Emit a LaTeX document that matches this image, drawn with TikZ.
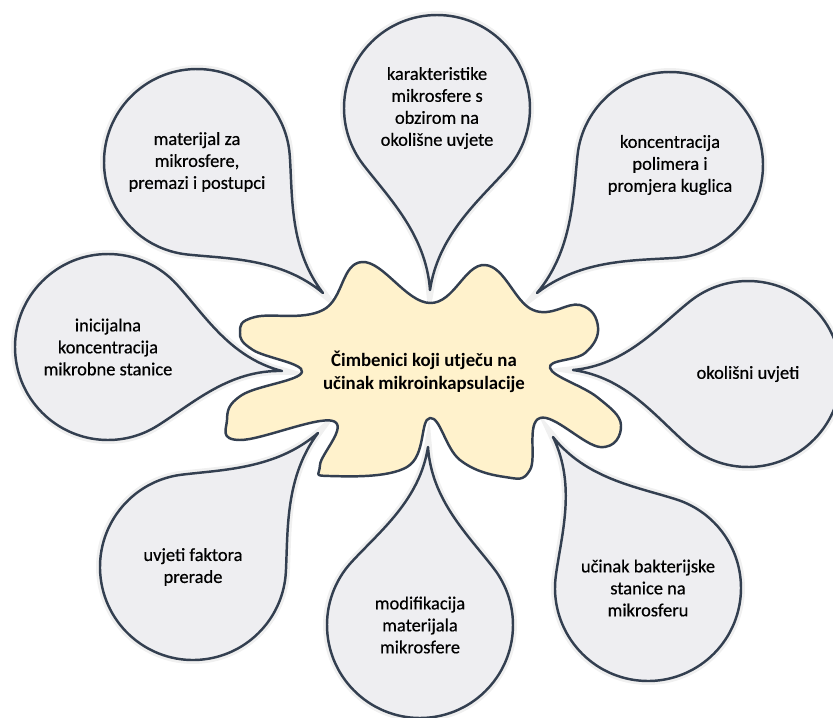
\documentclass[tikz,border=0pt]{standalone}
\usepackage{fontspec}
\setmainfont{Carlito}
\newfontfamily\semibold{Carlito}[FakeBold=0.5]
\definecolor{drop grey}{HTML}{EEEEF1}
\definecolor{blob yellow}{HTML}{FFF2CC}
\definecolor{outline navy}{HTML}{333F50}
\usetikzlibrary{calc,backgrounds}
\tikzstyle{outline} = [draw=outline navy, line width=1.4pt, line join=round]
\tikzstyle{drop} = [outline, fill=drop grey, preaction={draw=black!6, line width=4.5pt}]
\tikzstyle{blob} = [outline, fill=blob yellow]
\tikzstyle{drop text} = [align=center, font=\semibold\fontsize{10.5}{12.5}\selectfont]
\tikzstyle{main text} = [align=center, font=\bfseries\fontsize{10.7}{13}\selectfont]

\begin{document}
\begin{tikzpicture}
        \def\dropR{1.86cm}
        \useasboundingbox (-8.48,-6.90) rectangle (8.18,7.44);
        \node[main text] (faktori) {Čimbenici koji utječu na\\učinak mikroinkapsulacije};
        \draw (faktori) ++(-4.54,4.20) node[drop text] (materijal) {materijal za\\mikrosfere,\\premazi i postupci};
        \draw (faktori) ++(0.26,5.28) node[drop text] (karakteristike) {karakteristike\\mikrosfere s\\obzirom na\\okolišne uvjete};
        \draw (faktori) ++(4.92,4.14) node[drop text] (koncentracija) {koncentracija\\polimera i\\promjera kuglica};
        \draw (faktori) ++(6.48,-0.04) node[drop text] (okolisni) {okolišni uvjeti};
        \draw (faktori) ++(4.48,-4.32) node[drop text] (ucinak) {učinak bakterijske\\stanice na\\mikrosferu};
        \draw (faktori) ++(-0.08,-5.06) node[drop text] (modifikacija) {modifikacija\\materijala\\mikrosfere};
        \draw (faktori) ++(-4.62,-3.90) node[drop text] (uvjeti) {uvjeti faktora\\prerade};
        \draw (faktori) ++(-6.32,0.50) node[drop text] (inicijalna) {inicijalna\\koncentracija\\mikrobne stanice};
        
        % tips of the drops, pointing into the notches of the blob
        \coordinate (materijal-tip) at (-2.02,1.58);
        \coordinate (karakteristike-tip) at (0.12,1.64);
        \coordinate (koncentracija-tip) at (2.26,1.58);
        \coordinate (okolisni-tip) at (2.98,0.04);
        \coordinate (ucinak-tip) at (2.58,-1.30);
        \coordinate (modifikacija-tip) at (0.08,-1.50);
        \coordinate (uvjeti-tip) at (-2.12,-1.22);
        \coordinate (inicijalna-tip) at (-2.84,0.02);
        
        \begin{scope}[on background layer]
            \foreach \d in {materijal,karakteristike,koncentracija,okolisni,ucinak,modifikacija,uvjeti,inicijalna}
                \draw[drop] let \p1=($(\d-tip)-(\d)$), \n1={atan2(\y1,\x1)} in
                    (\d-tip) .. controls ($(\d-tip)!0.3!(\d)+(\n1+90:0.12)$) and ($(\d)+(\n1+50:\dropR)+(\n1-40:0.45*\dropR)$) .. ($(\d)+(\n1+50:\dropR)$)
                    arc[start angle=\n1+50, end angle=\n1+310, radius=\dropR]
                    .. controls ($(\d)+(\n1-50:\dropR)+(\n1+40:0.45*\dropR)$) and ($(\d-tip)!0.3!(\d)+(\n1-90:0.12)$) .. (\d-tip) -- cycle;
            \draw[blob] plot[smooth cycle, tension=0.7] coordinates {
                (-2.02,1.24) (-1.24,2.20) (0.12,1.38) (1.22,2.14) (2.18,1.24) (3.12,1.34)
                (3.48,0.90) (3.22,0.38) (2.52,0.08) (3.46,-0.50) (3.94,-1.06) (3.52,-1.50)
                (2.32,-0.92) (2.12,-1.96) (1.62,-2.10) (0.72,-1.76) (0.12,-0.92) (-0.34,-1.90)
                (-1.88,-2.08) (-2.08,-1.86) (-1.82,-0.98) (-3.68,-1.36) (-3.94,-0.96) (-3.64,-0.46)
                (-2.44,0.00) (-3.42,0.44) (-3.68,0.80) (-3.38,1.10)};
        \end{scope}
    \end{tikzpicture}
\end{document}
